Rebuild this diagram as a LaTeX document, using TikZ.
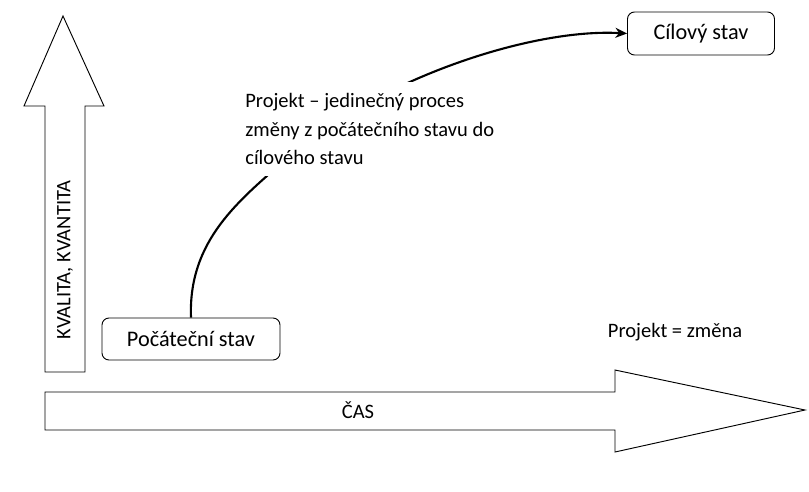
\documentclass[tikz,border=0pt]{standalone}
\usepackage{fontspec}
\setmainfont{Carlito}
\usetikzlibrary{arrows.meta,positioning}

\begin{document}
\begin{tikzpicture}[x=0.03cm,y=-0.03cm,semithick]
	  \tikzstyle{stav}=[draw=black,rounded corners=6pt,line width=0.8pt,fill=white,align=center,
	    font=\fontsize{19}{24}\selectfont,inner sep=0pt]
	  \tikzstyle{osa}=[draw=black,line width=0.8pt,fill=white]
	  \tikzstyle{popis}=[font=\fontsize{17.5}{24}\selectfont]

	  \useasboundingbox (0,0) rectangle (809,491);

	  % axes
	  \path[osa] (45,372) -- (45,106) -- (24,106) -- (63,16) -- (104,106) -- (85,106) -- (85,372) -- cycle;
	  \path[osa] (45,392) -- (615,392) -- (615,370) -- (805,410) -- (615,452) -- (615,430) -- (45,430) -- cycle;
	  \node[popis,rotate=90] (Q) at (65,260) {KVALITA, KVANTITA};
	  \node[popis] (T) at (358,410) {ČAS};

	  % states
	  \node[stav,minimum width=178*0.03cm,minimum height=42*0.03cm] (P) at (191,339) {Počáteční stav};
	  \node[stav,minimum width=147*0.03cm,minimum height=43*0.03cm] (C) at (701,33.5) {Cílový stav};

	  \coordinate (M) at (285,160);
	  \draw[line width=1.8pt,-{Stealth[length=3.5mm,width=3mm]}] (P.north) .. controls (188,240) and (240,200) .. (M)
	    .. controls (375,80) and (530,28) .. (C.west);

	  \node[popis,fill=white,align=left,anchor=west,inner sep=12*0.03cm] (D) at (233,129)
	    {Projekt – jedinečný proces\\změny z počátečního stavu do\\cílového stavu};
	  \node[popis] (Z) at (675,332) {Projekt = změna};
	\end{tikzpicture}
\end{document}
